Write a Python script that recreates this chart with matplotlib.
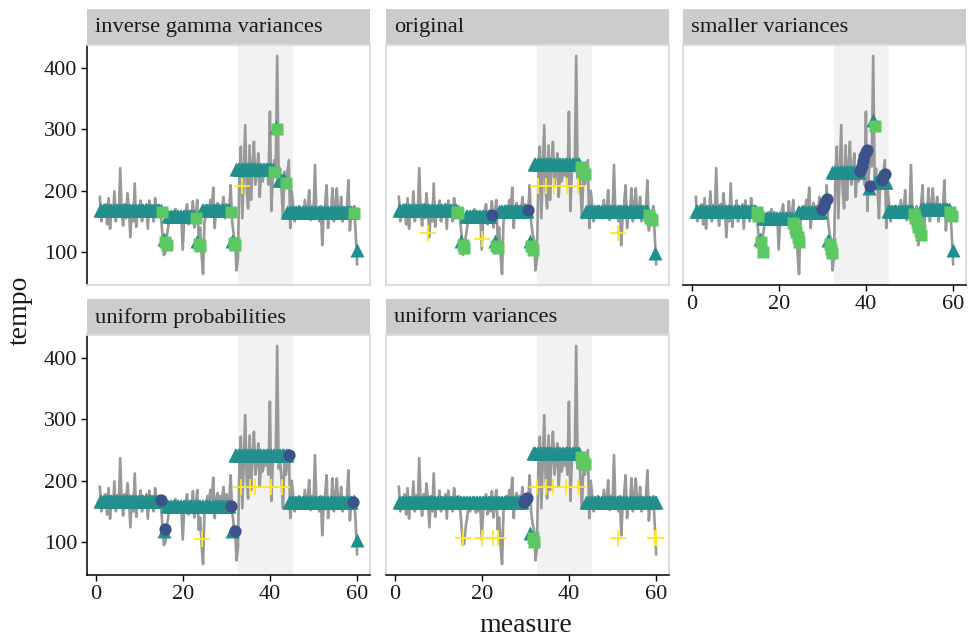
import matplotlib.pyplot as plt

plt.rcParams['font.family'] = ['Liberation Serif', 'DejaVu Serif']

# observed tempo, three beats per measure (measures 1-59), then the last note of m60
tempo = [
    190, 150, 172,  160, 178, 145,  188, 138, 170,  158, 199, 150,  176, 160, 237,
    165, 143, 178,  155, 196, 168,  124, 175, 150,  212, 141, 170,  160, 184, 150,
    172, 160, 178,  138, 184, 158,  170, 150, 188,  165, 158, 175,  160, 130, 95,
    98, 125, 140,   160, 150, 165,  155, 170, 148,  165, 150, 160,  104, 150, 165,
    178, 145, 160,  150, 183, 140,  160, 185, 120,  140, 95, 64,    150, 160, 175,
    165, 185, 170,  205, 139, 170,  180, 160, 175,  165, 190, 155,  178, 160, 170,
    209, 150, 130,  120, 70, 90,    229, 272, 155,  230, 307, 200,  171, 274, 185,
    240, 280, 210,  230, 261, 190,  236, 215, 230,  225, 240, 210,  329, 167, 230,
    250, 240, 420,  220, 236, 200,  155, 231, 210,  230, 250, 139,  200, 177, 150,
    168, 160, 175,  165, 170, 155,  185, 160, 170,  201, 152, 175,  165, 242, 160,
    170, 150, 175,  111, 160, 180,  209, 139, 170,  160, 204, 150,  175, 204, 160,
    165, 190, 150,  170, 160, 175,  217, 135, 165,  160, 175, 130,
    80,
]
measure = [1 + i / 3 for i in range(len(tempo))]

stress_span = (32.7, 45.3)

# --- inverse gamma variances
ig_runs = [(1, 15, 168), (16.67, 22.67, 159), (24.33, 30.67, 168), (32.33, 40.67, 235),
           (42.0, 43.33, 217), (44.0, 59.0, 166)]
ig_tri = [(15.67, 122), (23.33, 118), (31.33, 118), (41.33, 304), (60, 104)]
ig_sq = [(15.33, 166), (16.0, 117), (16.33, 112), (23.0, 155), (23.67, 113), (24.0, 110),
         (31.0, 165), (31.67, 114), (32.0, 111), (41.0, 231), (41.67, 301), (43.67, 213),
         (59.33, 163)]
ig_circ = []
ig_plus = [(33.67, 207)]

# --- original
or_runs = [(1, 14.0, 168), (16.33, 22.0, 159), (24.0, 30.33, 167), (32.0, 42.33, 243),
           (44.0, 58.0, 167)]
or_tri = [(15.33, 118), (23.0, 118), (31.0, 118), (59.67, 99)]
or_sq = [(14.33, 166), (14.67, 163), (15.67, 112), (16.0, 106), (23.33, 110), (23.67, 106),
         (31.33, 110), (31.67, 104), (42.67, 238), (43.0, 234), (43.33, 230), (43.67, 227),
         (58.33, 160), (58.67, 156), (59.0, 152)]
or_circ = [(22.33, 160), (30.67, 168)]
or_plus = [(7.67, 131), (20.0, 121), (33.0, 207), (34.67, 207), (36.67, 207), (39.67, 207),
           (42.0, 207), (51.33, 131)]

# --- smaller variances
sm_runs = [(1, 14.67, 167), (16.33, 23.0, 155), (24.33, 29.67, 165), (32.33, 38.33, 231),
           (42.0, 44.67, 215), (45.0, 50.67, 167), (52.67, 59.0, 170)]
sm_tri = [(15.67, 122), (31.33, 119), (40.67, 204), (41.67, 315), (60, 103)]
sm_sq = [(15.0, 165), (15.33, 158), (16.0, 116), (16.33, 100),
         (23.33, 148), (23.67, 140), (24.0, 132), (24.33, 124), (24.67, 116),
         (31.67, 113), (32.0, 105), (32.33, 98), (42.0, 305),
         (51.0, 162), (51.33, 156), (51.67, 149), (52.0, 141), (52.33, 134), (52.67, 127),
         (59.33, 166), (59.67, 158)]
sm_circ = [(30.0, 170), (30.33, 175), (30.67, 181), (31.0, 187),
           (38.67, 233), (39.0, 241), (39.33, 249), (39.67, 257), (40.0, 263), (40.33, 267),
           (41.0, 207), (43.67, 217), (44.0, 222), (44.33, 228)]
sm_plus = []

# --- uniform probabilities
up_runs = [(1, 14.67, 167), (16.33, 30.67, 159), (32.0, 44.0, 242), (44.33, 58.67, 165)]
up_tri = [(15.67, 118), (31.33, 118), (60, 104)]
up_sq = []
up_circ = [(15.0, 168), (16.0, 122), (31.0, 159), (32.0, 118), (44.33, 242), (59.0, 165)]
up_plus = [(24.33, 105), (33.33, 189), (35.33, 189), (36.67, 189), (40.33, 189), (42.67, 189)]

# --- uniform variances
uv_runs = [(1, 29.33, 165), (31.67, 42.33, 245), (44.0, 60.0, 165)]
uv_tri = [(31.0, 114)]
uv_sq = [(31.67, 106), (32.0, 100), (42.67, 238), (43.0, 234), (43.33, 230), (43.67, 227)]
uv_circ = [(29.67, 165), (30.0, 168), (30.33, 172)]
uv_plus = [(15.67, 106), (20.0, 106), (22.67, 106), (23.67, 106),
           (32.67, 189), (34.67, 189), (36.33, 189), (39.33, 189), (42.0, 189),
           (51.33, 107), (59.67, 107), (60.0, 107)]

panels = [
    ('inverse gamma variances', ig_runs, ig_tri, ig_sq, ig_circ, ig_plus),
    ('original', or_runs, or_tri, or_sq, or_circ, or_plus),
    ('smaller variances', sm_runs, sm_tri, sm_sq, sm_circ, sm_plus),
    ('uniform probabilities', up_runs, up_tri, up_sq, up_circ, up_plus),
    ('uniform variances', uv_runs, uv_tri, uv_sq, uv_circ, uv_plus),
]

teal, green, purple, yellow = '#21908C', '#5DC863', '#3B528B', '#FDE725'

W, H = 969, 641
fig = plt.figure(figsize=(W / 100, H / 100), dpi=100)

col_left = [87, 386, 683]
pw = 283
rows = [(9, 45, 285), (299, 335, 575)]  # strip top, panel top, panel bottom (px)


def box(x0, y0, x1, y1):
    return [x0 / W, 1 - y1 / H, (x1 - x0) / W, (y1 - y0) / H]


axes = []
for i, (title, runs, tri, sq, circ, plus) in enumerate(panels):
    r, c = divmod(i, 3)
    st, pt, pb = rows[r]
    x0 = col_left[c]
    ax = fig.add_axes(box(x0, pt, x0 + pw, pb), sharex=axes[0] if axes else None,
                      sharey=axes[0] if axes else None)
    axes.append(ax)

    ax.axvspan(*stress_span, color='#F2F2F2', lw=0, zorder=0)
    ax.plot(measure, tempo, color='#999999', lw=1.9, zorder=1)

    rx, ry = [], []
    for a, b, lvl in runs:
        for x in measure:
            if a - 0.01 <= x <= b + 0.01:
                rx.append(x)
                ry.append(lvl)
    rx += [p[0] for p in tri]
    ry += [p[1] for p in tri]
    ax.plot(rx, ry, '^', ms=10.5, color=teal, mec='none', ls='none', zorder=2)
    if sq:
        ax.plot([p[0] for p in sq], [p[1] for p in sq], 's', ms=8.3, color=green,
                mec='none', ls='none', zorder=3)
    if circ:
        ax.plot([p[0] for p in circ], [p[1] for p in circ], 'o', ms=8.8, color=purple,
                mec='none', ls='none', zorder=4)
    if plus:
        ax.plot([p[0] for p in plus], [p[1] for p in plus], '+', ms=11, mew=1.3,
                color=yellow, ls='none', zorder=5)

    for s in ax.spines.values():
        s.set_color('#D9D9D9')
        s.set_linewidth(1.3)
    ax.tick_params(length=4.5, width=1, color='black', labelsize=16, pad=2.5,
                   labelcolor='#1A1A1A')
    ax.set_xticks([0, 20, 40, 60])
    ax.set_yticks([100, 200, 300, 400])

    if c == 0:
        ax.spines['left'].set_color('black')
        ax.spines['left'].set_linewidth(1.1)
    else:
        ax.tick_params(left=False, labelleft=False)
    if r == 1 or c == 2:
        ax.spines['bottom'].set_color('black')
        ax.spines['bottom'].set_linewidth(1.1)
    else:
        ax.tick_params(bottom=False, labelbottom=False)

    sax = fig.add_axes(box(x0, st, x0 + pw, pt - 1))
    sax.set_facecolor('#CCCCCC')
    sax.set_xticks([])
    sax.set_yticks([])
    for s in sax.spines.values():
        s.set_visible(False)
    sax.text(8 / pw, 0.47, title, transform=sax.transAxes, ha='left', va='center',
             fontsize=16.2, color='#1A1A1A')

axes[0].margins(0.05)

fig.text(20 / W, 1 - 310 / H, 'tempo', rotation=90, ha='center', va='center',
         fontsize=20, color='#1A1A1A')
fig.text(526 / W, 1 - 626 / H, 'measure', ha='center', va='center', fontsize=20,
         color='#1A1A1A')

fig.savefig('out.png', dpi=100)
